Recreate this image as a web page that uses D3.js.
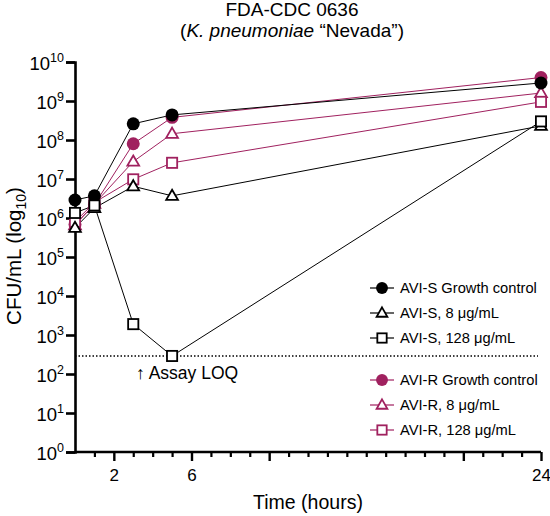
<!DOCTYPE html>
<html>
<head>
<meta charset="utf-8">
<script src="https://cdn.jsdelivr.net/npm/d3@7"></script>
<style>
body{margin:0;background:#fff;}
text{font-family:"Liberation Sans",Arial,Helvetica,sans-serif;fill:#000;}
</style>
</head>
<body>
<svg id="chart" width="550" height="516"></svg>
<script>
const times = [0, 1, 3, 5, 24];
const seriesNames = ["AVI-S Growth control","AVI-S, 8 \u03bcg/mL","AVI-S, 128 \u03bcg/mL","AVI-R Growth control","AVI-R, 8 \u03bcg/mL","AVI-R, 128 \u03bcg/mL"];
const sGrowth = [2.9e6, 3.7e6, 2.6e8, 4.4e8, 2.9e9];
const s8 = [5.6e5, 1.8e6, 6.5e6, 3.7e6, 2.3e8];
const s128 = [1.35e6, 2.1e6, 1.9e3, 2.9e2, 3.0e8];
const rGrowth = [6.8e5, 2.2e6, 8.0e7, 3.8e8, 4.0e9];
const r8 = [6.5e5, 2.3e6, 2.8e7, 1.45e8, 1.6e9];
const r128 = [8.0e5, 2.5e6, 9.8e6, 2.6e7, 9.5e8];
const loq = 290;
const yTickExps = [0,1,2,3,4,5,6,7,8,9,10];
const xTickLabels = [2, 6, 24];
const xMajorTicks = [2, 6, 10, 20, 24];

const black = "#000", pink = "#a0215f";
const series = [
  {name: seriesNames[3], values: rGrowth, color: pink, shape: "circle"},
  {name: seriesNames[4], values: r8, color: pink, shape: "triangle"},
  {name: seriesNames[5], values: r128, color: pink, shape: "square"},
  {name: seriesNames[0], values: sGrowth, color: black, shape: "circle"},
  {name: seriesNames[1], values: s8, color: black, shape: "triangle"},
  {name: seriesNames[2], values: s128, color: black, shape: "square"}
];

const svg = d3.select("#chart");
const x = d3.scaleLinear().domain([0, 24]).range([75, 541]);
const y = d3.scaleLog().domain([1, 1e10]).range([452, 62]);

// Title
svg.append("text").attr("x", 292).attr("y", 16).attr("text-anchor", "middle").style("font-size", "19px").text("FDA-CDC 0636");
const t2 = svg.append("text").attr("x", 292).attr("y", 37).attr("text-anchor", "middle").style("font-size", "19px");
t2.append("tspan").text("(");
t2.append("tspan").style("font-style", "italic").text("K. pneumoniae");
t2.append("tspan").text(" \u201cNevada\u201d)");

// LOQ line
svg.append("line").attr("x1", x(0)).attr("x2", 538).attr("y1", y(loq)).attr("y2", y(loq))
  .attr("stroke", "#000").attr("stroke-width", 1.4).attr("stroke-dasharray", "1.5,2");
svg.append("text").attr("x", 136).attr("y", 379).style("font-size", "17.5px").text("\u2191 Assay LOQ");

// Axes
const yAxis = d3.axisLeft(y).tickValues(yTickExps.map(e => Math.pow(10, e))).tickSize(9).tickFormat("");
const gy = svg.append("g").attr("transform", `translate(${x(0)},0)`).call(yAxis);
gy.select(".domain").attr("stroke-width", 2.6);
gy.selectAll(".tick line").attr("stroke-width", 2.6);
gy.selectAll(".tick").append("text")
  .attr("x", -11).attr("dy", "0.4em").attr("text-anchor", "end")
  .style("font-size", "18.5px")
  .each(function(d) {
    const e = Math.round(Math.log10(d));
    const t = d3.select(this);
    t.append("tspan").text("10");
    t.append("tspan").attr("dy", -8).style("font-size", "12.5px").text(e);
  });

const xAxisMinor = d3.axisBottom(x).tickValues(d3.range(1, 25).filter(v => !xMajorTicks.includes(v))).tickSize(5).tickFormat("");
const gxm = svg.append("g").attr("transform", `translate(0,${y(1)})`).call(xAxisMinor);
gxm.select(".domain").remove();
gxm.selectAll(".tick line").attr("stroke-width", 2.2);
const xAxis = d3.axisBottom(x).tickValues(xMajorTicks).tickSize(9)
  .tickFormat(d => xTickLabels.includes(d) ? d : "");
const gx = svg.append("g").attr("transform", `translate(0,${y(1)})`).call(xAxis);
gx.select(".domain").attr("stroke-width", 2.6).attr("d", `M${x(0)},0H${x(24)}`);
gx.selectAll(".tick line").attr("stroke-width", 2.4);
gx.selectAll(".tick text").attr("y", 17).style("font-size", "17px").style("font-family", '"Liberation Sans",Arial,sans-serif');
svg.selectAll(".tick text").attr("fill", "#000");

// Axis titles
const yt = svg.append("text").attr("transform", "translate(21,256) rotate(-90)").attr("text-anchor", "middle").style("font-size", "20.5px");
yt.append("tspan").text("CFU/mL (log");
yt.append("tspan").attr("dy", 5).style("font-size", "14px").text("10");
yt.append("tspan").attr("dy", -5).text(")");
svg.append("text").attr("x", 308).attr("y", 509).attr("text-anchor", "middle").style("font-size", "19.5px").text("Time (hours)");

// Marker drawing
function drawMarker(g, shape, cx, cy, color, size) {
  if (shape === "circle") {
    g.append("circle").attr("cx", cx).attr("cy", cy).attr("r", size * 0.54).attr("fill", color);
  } else if (shape === "square") {
    const s = size * 0.85;
    g.append("rect").attr("x", cx - s/2).attr("y", cy - s/2).attr("width", s).attr("height", s)
      .attr("fill", "#fff").attr("stroke", color).attr("stroke-width", 1.8);
  } else {
    const h = size * 0.85, w = size * 0.98;
    g.append("path").attr("d", `M${cx},${cy - h*0.6}L${cx + w/2},${cy + h*0.4}L${cx - w/2},${cy + h*0.4}Z`)
      .attr("fill", "#fff").attr("stroke", color).attr("stroke-width", 1.8).attr("stroke-linejoin", "miter");
  }
}

const line = d3.line().x((d, i) => x(times[i])).y(d => y(d));
series.forEach(s => {
  svg.append("path").attr("d", line(s.values)).attr("fill", "none").attr("stroke", s.color).attr("stroke-width", 1);
});
series.forEach(s => {
  const g = svg.append("g");
  s.values.forEach((v, i) => drawMarker(g, s.shape, x(times[i]), y(v), s.color, 12));
});

// Legend
const legendOrder = [3, 4, 5, 0, 1, 2];
const legendY = [288, 313, 338, 380, 405, 430];
legendOrder.forEach((si, k) => {
  const s = series[si];
  const g = svg.append("g");
  const ly = legendY[k];
  g.append("line").attr("x1", 370).attr("x2", 394).attr("y1", ly).attr("y2", ly).attr("stroke", s.color).attr("stroke-width", 1.2);
  drawMarker(g, s.shape, 382, ly, s.color, 11);
  g.append("text").attr("x", 400).attr("y", ly + 5).style("font-size", "14.7px").text(s.name);
});
</script>
</body>
</html>
